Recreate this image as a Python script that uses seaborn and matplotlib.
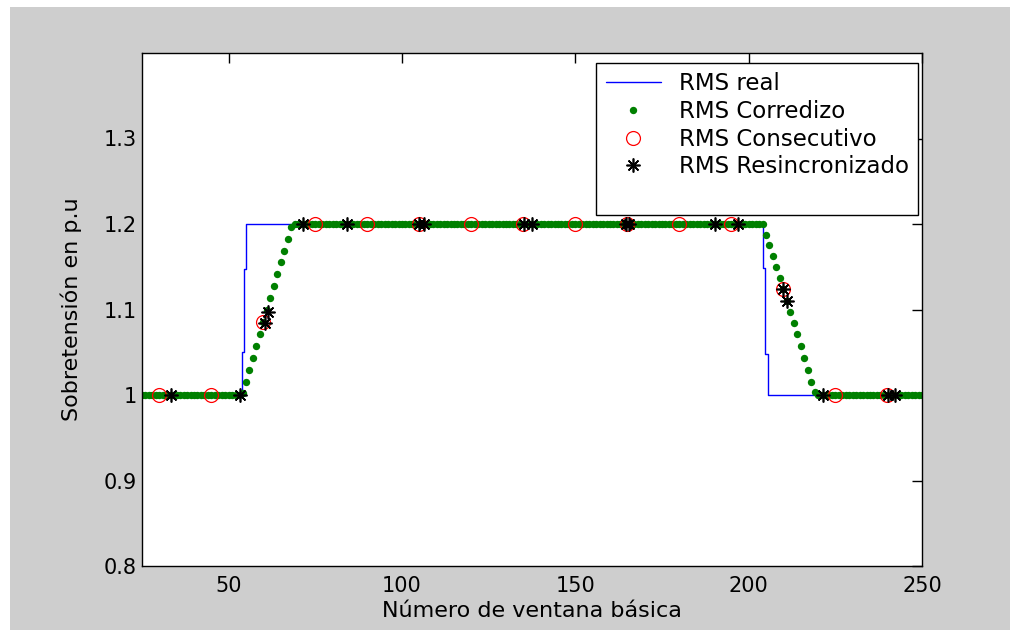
import matplotlib
matplotlib.use("Agg")
import matplotlib.pyplot as plt
from matplotlib.patches import Rectangle
import numpy as np
import seaborn as sns

# RMS real (step signal)
real_x = [25, 53.9, 53.9, 54.4, 54.4, 55.1, 55.1, 204.2, 204.2, 204.7, 204.7, 205.5, 205.5, 250]
real_y = [1.0, 1.0, 1.05, 1.05, 1.147, 1.147, 1.2, 1.2, 1.149, 1.149, 1.048, 1.048, 1.0, 1.0]

# RMS corredizo, one value per window 25..250
corr_x = np.arange(25, 251)
corr_low1 = [1.0] * 29                      # 25..53
corr_up = [1.002, 1.015, 1.029, 1.043, 1.057, 1.071, 1.085, 1.099,
           1.113, 1.127, 1.141, 1.155, 1.169, 1.183, 1.197]   # 54..68
corr_high = [1.2] * 136                     # 69..204
corr_down = [1.187, 1.175, 1.163, 1.150, 1.137, 1.124, 1.110, 1.097,
             1.084, 1.071, 1.057, 1.043, 1.029, 1.015, 1.003]  # 205..219
corr_low2 = [1.0] * 31                      # 220..250
corr_y = corr_low1 + corr_up + corr_high + corr_down + corr_low2

# RMS consecutivo
cons_x = [30, 45, 60, 75, 90, 105, 120, 135, 150, 165, 180, 195, 210, 225, 240]
cons_y = [1.0, 1.0, 1.085, 1.2, 1.2, 1.2, 1.2, 1.2, 1.2, 1.2, 1.2, 1.2, 1.124, 1.0, 1.0]

# RMS resincronizado
res_x = [33.5, 53.4, 60.4, 61.4, 71.4, 84.1, 104.8, 106.3, 135.1, 137.5,
         164.7, 165.5, 190.2, 197.0, 210.0, 211.2, 221.3, 240.3, 242.1]
res_y = [1.0, 1.0, 1.084, 1.097, 1.2, 1.2, 1.2, 1.2, 1.2, 1.2,
         1.2, 1.2, 1.2, 1.2, 1.124, 1.11, 1.0, 1.0, 1.0]

x_ticks = [50, 100, 150, 200, 250]
y_ticks = [0.8, 0.9, 1.0, 1.1, 1.2, 1.3]
y_tick_labels = ["0.8", "0.9", "1", "1.1", "1.2", "1.3"]


def main() -> None:
    sns.set_style("white")
    plt.rcParams["font.family"] = ["DejaVu Sans"]
    plt.rcParams["text.color"] = "black"
    plt.rcParams["axes.labelcolor"] = "black"

    fig = plt.figure(figsize=(10.1, 6.3), dpi=100, facecolor="white")
    fig.patches.append(Rectangle((10 / 1010, 0), 1, 1 - 7 / 630,
                                 transform=fig.transFigure,
                                 facecolor="#cecece", edgecolor="none", zorder=-5))
    ax = fig.add_axes([142 / 1010, 1 - 566 / 630, 780 / 1010, 513 / 630])
    ax.set_facecolor("white")

    sns.lineplot(x=real_x, y=real_y, ax=ax, sort=False, estimator=None,
                 color="#0000ff", linewidth=1.0, label="RMS real")
    sns.lineplot(x=corr_x, y=corr_y, ax=ax, sort=False, estimator=None,
                 color="#008000", linestyle="", marker="o", markersize=5.3,
                 markeredgewidth=0, markeredgecolor="#008000",
                 label="RMS Corredizo")
    sns.lineplot(x=cons_x, y=cons_y, ax=ax, sort=False, estimator=None,
                 color="red", linestyle="", marker="o", markersize=10,
                 markerfacecolor="none", markeredgecolor="red",
                 markeredgewidth=0.9, label="RMS Consecutivo")
    sns.lineplot(x=res_x, y=res_y, ax=ax, sort=False, estimator=None,
                 color="black", linestyle="", marker=(8, 2, 0), markersize=10,
                 markeredgecolor="black", markeredgewidth=1.2,
                 label="RMS Resincronizado")

    ax.set_xlim(25, 250)
    ax.set_ylim(0.8, 1.4)
    ax.set_xticks(x_ticks)
    ax.set_xticklabels([str(t) for t in x_ticks])
    ax.set_yticks(y_ticks)
    ax.set_yticklabels(y_tick_labels)
    ax.tick_params(direction="in", length=7, width=1, colors="black",
                   labelsize=15, top=True, right=True)
    ax.tick_params(axis="x", pad=7)
    ax.tick_params(axis="y", pad=4)
    for sp in ax.spines.values():
        sp.set_visible(True)
        sp.set_color("black")
        sp.set_linewidth(1.0)

    ax.set_xlabel("Número de ventana básica", fontsize=16, labelpad=4)
    ax.set_ylabel("Sobretensión en p.u", fontsize=16, labelpad=15)

    handles, labels = ax.get_legend_handles_labels()
    blank = plt.Line2D([], [], linestyle="", marker="")
    leg = ax.legend(handles + [blank], labels + [""], loc="upper right",
                    bbox_to_anchor=(0.995, 0.98), borderaxespad=0,
                    fontsize=16.5, frameon=True, fancybox=False,
                    handlelength=2.4, handletextpad=0.8, borderpad=0.4,
                    labelspacing=0.2)
    leg.get_frame().set_edgecolor("black")
    leg.get_frame().set_linewidth(1.0)
    leg.get_frame().set_alpha(1)

    fig.savefig("out.png", dpi=100, facecolor=fig.get_facecolor())


if __name__ == "__main__":
    main()
